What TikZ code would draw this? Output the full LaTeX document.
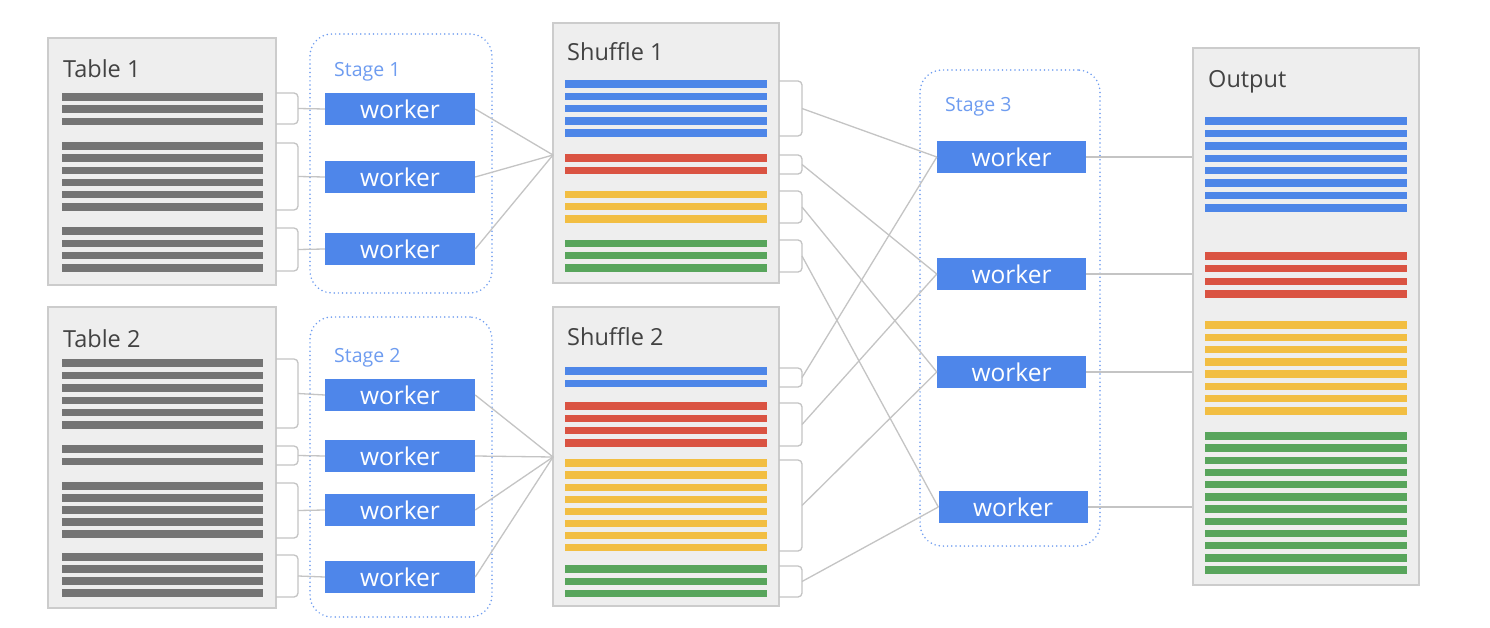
\documentclass[tikz,border=0pt]{standalone}
\usepackage{fontspec}
\setmainfont{Open Sans}
\usetikzlibrary{fit}
\definecolor{wblue}{HTML}{4E86EA}
\definecolor{bblue}{HTML}{4D86E8}
\definecolor{bred}{HTML}{DA5342}
\definecolor{byellow}{HTML}{F2BE42}
\definecolor{bgreen}{HTML}{58A55C}
\definecolor{bgray}{HTML}{747474}
\definecolor{panelfill}{HTML}{EEEEEE}
\definecolor{paneldraw}{HTML}{CCCCCC}
\definecolor{conngray}{HTML}{C4C4C4}
\definecolor{stageblue}{HTML}{6E9CF0}
\definecolor{titlegray}{HTML}{424242}
\tikzset{
  panel/.style={fill=panelfill, draw=paneldraw, line width=1.5pt, inner sep=0pt},
  stagebox/.style={draw=stageblue, line width=1.7pt, dash pattern=on 0pt off 4.2pt, line cap=round, rounded corners=22pt, inner sep=0pt},
  worker/.style={fill=wblue, minimum width=150pt, minimum height=32pt, inner sep=0pt, text=white, font=\fontsize{24.5}{24.5}\selectfont},
  title/.style={anchor=base west, inner sep=0pt, text=titlegray, font=\fontsize{23.5}{23.5}\selectfont},
  stagelabel/.style={anchor=base west, inner sep=0pt, text=stageblue, font=\fontsize{19.5}{19.5}\selectfont},
  bar/.style={line width=7.4pt, line cap=butt},
  conn/.style={draw=conngray, line width=1.3pt},
  brk/.style={draw=conngray, line width=1.3pt, rounded corners=4pt},
}
% bracket: x0, x1, top, bottom, coordinate name
\newcommand\mybrk[5]{%
  \draw[brk] (#1,#3) -| (#2,#4) -- (#1,#4);
  \coordinate (#5) at (#2,{(#3+#4)/2});
}
\begin{document}
\begin{tikzpicture}[x=1pt,y=-1pt]
\useasboundingbox (0,0) rectangle (1490,628);
\fill[white] (0,0) rectangle (1490,628);

% ---------- panels ----------
\node[panel, fit={(48,38) (276,285)}] (t1) {};
\node[panel, fit={(48,307) (276,608)}] (t2) {};
\node[panel, fit={(553,23) (779,283)}] (s1) {};
\node[panel, fit={(553,307) (779,606)}] (s2) {};
\node[panel, fit={(1193,48) (1419,585)}] (out) {};

\node[title] (t1t) at (63,78) {Table 1};
\node[title] (t2t) at (63,347) {Table 2};
\node[title] (s1t) at (567,61) {Shuffle 1};
\node[title] (s2t) at (567,345) {Shuffle 2};
\node[title] (outt) at (1208,88) {Output};

% ---------- stage boxes ----------
\node[stagebox, fit={(310,34) (492,293)}] (st1) {};
\node[stagebox, fit={(310,317) (492,617)}] (st2) {};
\node[stagebox, fit={(920,70) (1100,546)}] (st3) {};
\node[stagelabel] (st1l) at (334,77) {Stage 1};
\node[stagelabel] (st2l) at (334,362) {Stage 2};
\node[stagelabel] (st3l) at (945,112) {Stage 3};

% ---------- bars ----------
\foreach \y in {97,109.2,121.4, 146,158.2,170.4,182.6,194.8,207, 231,243.3,255.6,268}
  \draw[bar, bgray] (62,\y) -- (263,\y);
\foreach \y in {363,375.4,387.8,400.2,412.6,425, 449,461.5, 486,498,510,522,534, 557,569,581,593}
  \draw[bar, bgray] (62,\y) -- (263,\y);

\foreach \y in {84,96.3,108.6,120.9,133.2} \draw[bar, bblue] (565,\y) -- (767,\y);
\foreach \y in {158,170.3} \draw[bar, bred] (565,\y) -- (767,\y);
\foreach \y in {194.5,206.8,219.1} \draw[bar, byellow] (565,\y) -- (767,\y);
\foreach \y in {243.5,255.8,268.1} \draw[bar, bgreen] (565,\y) -- (767,\y);

\foreach \y in {371,383.3} \draw[bar, bblue] (565,\y) -- (767,\y);
\foreach \y in {406,418.3,430.6,442.9} \draw[bar, bred] (565,\y) -- (767,\y);
\foreach \i in {0,...,7} \draw[bar, byellow] (565,463+12.1*\i) -- (767,463+12.1*\i);
\foreach \y in {569,581.2,593.4} \draw[bar, bgreen] (565,\y) -- (767,\y);

\foreach \i in {0,...,7} \draw[bar, bblue] (1205,121+12.43*\i) -- (1407,121+12.43*\i);
\foreach \i in {0,...,3} \draw[bar, bred] (1205,256+12.67*\i) -- (1407,256+12.67*\i);
\foreach \i in {0,...,7} \draw[bar, byellow] (1205,325+12.29*\i) -- (1407,325+12.29*\i);
\foreach \i in {0,...,11} \draw[bar, bgreen] (1205,436+12.18*\i) -- (1407,436+12.18*\i);

% ---------- workers ----------
\node[worker] (w11) at (400,109) {worker};
\node[worker] (w12) at (400,177) {worker};
\node[worker] (w13) at (400,249) {worker};
\node[worker] (w21) at (400,395) {worker};
\node[worker] (w22) at (400,456) {worker};
\node[worker] (w23) at (400,510) {worker};
\node[worker] (w24) at (400,577) {worker};
\node[worker, minimum width=149pt] (w31) at (1011.5,157) {worker};
\node[worker, minimum width=149pt] (w32) at (1011.5,274) {worker};
\node[worker, minimum width=149pt] (w33) at (1011.5,372) {worker};
\node[worker, minimum width=149pt] (w34) at (1013,507) {worker};

% ---------- brackets ----------
\mybrk{276}{298}{93}{124}{b11}
\mybrk{276}{298}{143}{210}{b12}
\mybrk{276}{298}{228}{271}{b13}
\mybrk{276}{298}{359}{428}{b21}
\mybrk{276}{298}{446}{465}{b22}
\mybrk{276}{298}{483}{538}{b23}
\mybrk{276}{298}{555}{597}{b24}
\mybrk{779}{802}{81}{136}{c11}
\mybrk{779}{802}{155}{174}{c12}
\mybrk{779}{802}{191}{223}{c13}
\mybrk{779}{802}{240}{272}{c14}
\mybrk{779}{802}{368}{387}{c21}
\mybrk{779}{802}{403}{446}{c22}
\mybrk{779}{802}{460}{551}{c23}
\mybrk{779}{802}{566}{597}{c24}

% ---------- connectors ----------
\coordinate (s1in) at (553,155);
\coordinate (s2in) at (553,457);
\foreach \b/\w in {b11/w11,b12/w12,b13/w13,b21/w21,b22/w22,b23/w23,b24/w24}
  \draw[conn] (\b) -- (\w.west);
\foreach \w in {w11,w12,w13} \draw[conn] (\w.east) -- (s1in);
\foreach \w in {w21,w22,w23,w24} \draw[conn] (\w.east) -- (s2in);
\foreach \c/\w in {c11/w31,c12/w32,c13/w33,c14/w34,c21/w31,c22/w32,c23/w33,c24/w34}
  \draw[conn] (\c) -- (\w.west);
\foreach \w in {w31,w32,w33,w34} \draw[conn] (\w.east) -- (out.west |- \w.east);
\end{tikzpicture}
\end{document}
